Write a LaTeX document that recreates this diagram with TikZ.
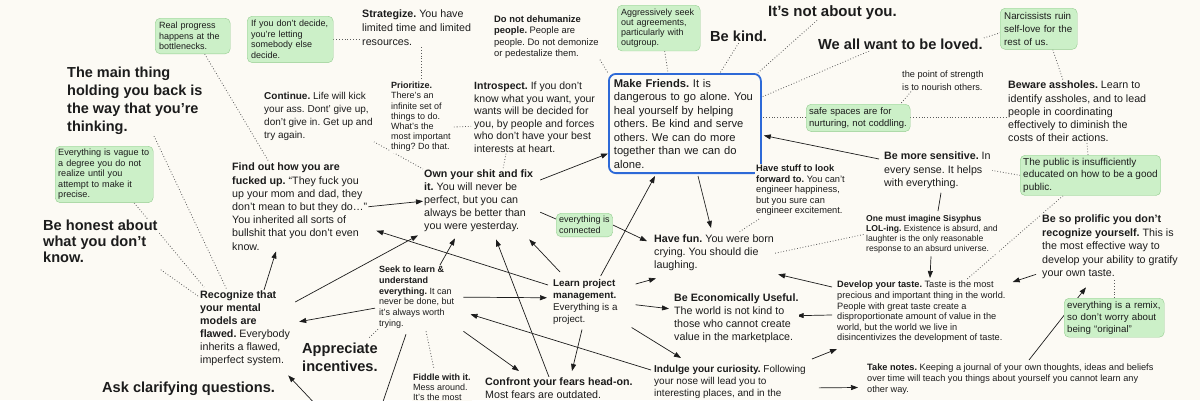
\documentclass[tikz,border=0pt]{standalone}
\usepackage{fontspec}
\setmainfont{Liberation Sans}
\usetikzlibrary{arrows.meta, calc, backgrounds}
\frenchspacing
\definecolor{paper}{RGB}{252,250,244}
\definecolor{ink}{RGB}{28,28,28}
\definecolor{notegreen}{RGB}{204,240,200}
\definecolor{noteedge}{RGB}{150,205,145}
\definecolor{hubblue}{RGB}{45,105,215}
\definecolor{dotgray}{RGB}{90,90,90}
\tikzset{
    txt/.style={anchor=north west, align=left, inner sep=1pt, fill=paper, text=ink},
    bigtxt/.style={txt, font=\bfseries\fontsize{14.6}{17.5}\selectfont},
    midtxt/.style={txt, font=\fontsize{10.7}{13.2}\selectfont},
    smalltxt/.style={txt, font=\fontsize{9.2}{10.6}\selectfont},
    tinytxt/.style={txt, font=\fontsize{8.6}{10}\selectfont},
    note/.style={anchor=north west, align=left, draw=noteedge, fill=notegreen, rounded corners=5pt, inner sep=4pt, text=ink, font=\fontsize{9}{10.5}\selectfont},
    hub/.style={anchor=north west, align=left, draw=hubblue, line width=1.8pt, rounded corners=7pt, fill=paper, inner sep=5pt, text=ink, font=\fontsize{11.2}{13.5}\selectfont},
    arrow/.style={-{Triangle[length=7pt,width=5pt]}, draw=ink, line width=0.7pt},
    plainline/.style={draw=ink, line width=0.7pt},
    dotline/.style={draw=dotgray, dotted, line width=0.8pt},
}

\begin{document}
\begin{tikzpicture}[x=1pt, y=-1pt]
    \useasboundingbox (0,0) rectangle (1200,400);
    \begin{scope}[on background layer]
        \fill[paper] (0,0) rectangle (1200,400);
    \end{scope}

    % top row
    \node[note, text width=67pt] (realprog) at (155,18) {Real progress\\happens at the\\bottlenecks.};
    \node[note, text width=78pt, font=\fontsize{9}{10.6}\selectfont] (decide) at (247,16) {If you don't decide,\\you're letting\\somebody else\\decide.};
    \node[midtxt, font=\fontsize{10.7}{14}\selectfont] (strat) at (361,9) {\textbf{Strategize.} You have\\limited time and limited\\resources.};
    \node[txt, font=\fontsize{9.4}{11.5}\selectfont] (dehum) at (493,14) {\textbf{Do not dehumanize}\\\textbf{people.} People are\\people. Do not demonize\\or pedestalize them.};
    \node[note, text width=75pt, font=\fontsize{9}{9.8}\selectfont] (aggress) at (617,5) {Aggressively seek\\out agreements,\\particularly with\\outgroup.};
    \node[bigtxt, font=\bfseries\fontsize{15}{17.5}\selectfont] (notyou) at (767,4) {It's not about you.};
    \node[bigtxt] (bekind) at (709,30) {Be kind.};
    \node[bigtxt] (loved) at (817,38) {We all want to be loved.};
    \node[note, text width=69pt, font=\fontsize{9.8}{13}\selectfont] (narc) at (1000,8) {Narcissists ruin\\self-love for the\\rest of us.};
    \node[txt, font=\fontsize{9.2}{12.5}\selectfont] (strength) at (901,70) {the point of strength\\is to nourish others.};
    \node[note, text width=98pt, inner sep=3pt, font=\fontsize{9.5}{12.5}\selectfont] (safe) at (806,104) {safe spaces are for\\nurturing, not coddling.};
    \node[midtxt] (beware) at (1007,80) {\textbf{Beware assholes.} Learn to\\identify assholes, and to lead\\people in coordinating\\effectively to diminish the\\costs of their actions.};

    % the hub
    \node[hub, text width=142pt] (makefr) at (608,73) {\textbf{Make Friends.} It is\\dangerous to go alone. You\\heal yourself by helping\\others. Be kind and serve\\others. We can do more\\together than we can do\\alone.};

    % left and middle
    \node[txt, font=\fontsize{10.5}{12.5}\selectfont] (introsp) at (473,81) {\textbf{Introspect.} If you don't\\know what you want, your\\wants will be decided for\\you, by people and forces\\who don't have your best\\interests at heart.};
    \node[txt, font=\fontsize{9}{10.2}\selectfont] (prior) at (390,81) {\textbf{Prioritize.}\\There's an\\infinite set of\\things to do.\\What's the\\most important\\thing? Do that.};
    \node[txt, font=\fontsize{10}{13}\selectfont] (cont) at (263,91) {\textbf{Continue.} Life will kick\\your ass. Dont' give up,\\don't give in. Get up and\\try again.};
    \node[bigtxt, font=\bfseries\fontsize{14.5}{18}\selectfont] (mainthing) at (66,66) {The main thing\\holding you back is\\the way that you're\\thinking.};
    \node[note, text width=92pt, inner sep=3pt, font=\fontsize{9.1}{10.5}\selectfont] (vague) at (55,146) {Everything is vague to\\a degree you do not\\realize until you\\attempt to make it\\precise.};
    \node[bigtxt, font=\bfseries\fontsize{14.6}{15.8}\selectfont] (honest) at (42,219) {Be honest about\\what you don't\\know.};
    \node[midtxt] (findout) at (231,162) {\textbf{Find out how you are}\\\textbf{fucked up.} “They fuck you\\up your mom and dad, they\\don't mean to but they do…”\\You inherited all sorts of\\bullshit that you don't even\\know.};
    \node[midtxt, font=\fontsize{10.7}{13}\selectfont] (ownshit) at (423,169) {\textbf{Own your shit and fix}\\\textbf{it.} You will never be\\perfect, but you can\\always be better than\\you were yesterday.};
    \node[note, inner sep=3pt, font=\fontsize{9}{11}\selectfont] (connected) at (556,213) {everything is\\connected};

    % right side
    \node[smalltxt, font=\fontsize{9.3}{10.5}\selectfont] (havestuff) at (755,164) {\textbf{Have stuff to look}\\\textbf{forward to.} You can't\\engineer happiness,\\but you sure can\\engineer excitement.};
    \node[midtxt] (sensitive) at (883,151) {\textbf{Be more sensitive.} In\\every sense. It helps\\with everything.};
    \node[note, inner sep=3pt, font=\fontsize{10}{12.5}\selectfont] (public) at (1020,155) {The public is insufficiently\\educated on how to be a good\\public.};
    \node[tinytxt] (sisyphus) at (865,214) {\textbf{One must imagine Sisyphus}\\\textbf{LOL-ing.} Existence is absurd, and\\laughter is the only reasonable\\response to an absurd universe.};
    \node[midtxt, font=\fontsize{10.7}{13}\selectfont] (havefun) at (653,234) {\textbf{Have fun.} You were born\\crying. You should die\\laughing.};
    \node[midtxt, font=\fontsize{10.7}{13.5}\selectfont] (prolific) at (1041,214) {\textbf{Be so prolific you don't}\\\textbf{recognize yourself.} This is\\the most effective way to\\develop your ability to gratify\\your own taste.};

    % bottom half
    \node[txt, font=\fontsize{9.8}{12}\selectfont] (learnpm) at (552,278) {\textbf{Learn project}\\\textbf{management.}\\Everything is a\\project.};
    \node[txt, font=\fontsize{9}{10.7}\selectfont] (seek) at (378,265) {\textbf{Seek to learn \&}\\\textbf{understand}\\\textbf{everything.} It can\\never be done, but\\it's always worth\\trying.};
    \node[midtxt, font=\fontsize{10.7}{13}\selectfont] (recog) at (199,290) {\textbf{Recognize that}\\\textbf{your mental}\\\textbf{models are}\\\textbf{flawed.} Everybody\\inherits a flawed,\\imperfect system.};
    \node[bigtxt, font=\bfseries\fontsize{14.6}{18}\selectfont] (apprec) at (301,342) {Appreciate\\incentives.};
    \node[bigtxt] (askclar) at (101,381) {Ask clarifying questions.};
    \node[txt, font=\fontsize{9}{10}\selectfont] (fiddle) at (412,373) {\textbf{Fiddle with it.}\\Mess around.\\It's the most};
    \node[midtxt, font=\fontsize{10.7}{13}\selectfont] (confront) at (484,377) {\textbf{Confront your fears head-on.}\\Most fears are outdated.};
    \node[midtxt, font=\fontsize{10.7}{13}\selectfont] (econ) at (673,293) {\textbf{Be Economically Useful.}\\The world is not kind to\\those who cannot create\\value in the marketplace.};
    \node[smalltxt] (taste) at (836,280) {\textbf{Develop your taste.} Taste is the most\\precious and important thing in the world.\\People with great taste create a\\disproportionate amount of value in the\\world, but the world we live in\\disincentivizes the development of taste.};
    \node[note, text width=94pt, inner sep=3pt, font=\fontsize{9.7}{12}\selectfont] (remix) at (1064,298) {everything is a remix,\\so don't worry about\\being “original”};
    \node[smalltxt, font=\fontsize{9.2}{11}\selectfont] (notes) at (866,363) {\textbf{Take notes.} Keeping a journal of your own thoughts, ideas and beliefs\\over time will teach you things about yourself you cannot learn any\\other way.};
    \node[txt, font=\fontsize{10}{12}\selectfont] (indulge) at (653,364) {\textbf{Indulge your curiosity.} Following\\your nose will lead you to\\interesting places, and in the};

    % ends that leave the frame
    \coordinate (belowseek) at (375,425);
    \coordinate (belowrecog) at (335,425);

    \begin{scope}[on background layer]
        % dotted links
        \draw[dotline] ($(realprog.south)+(12,0)$) -- ($(findout.north west)+(38,0)$);
        \draw[dotline] (decide.east) -- (decide.east -| strat.west);
        \draw[dotline] (prior.north |- strat.south) -- (prior.north);
        \draw[dotline] ($(prior.east)+(2,10)$) -- ($(introsp.west)+(-2,9)$);
        \draw[dotline] (cont.south east) -- (ownshit.north west);
        \draw[dotline] ($(introsp.south west)+(33,0)$) -- ($(ownshit.north west)+(80,0)$);
        \draw[dotline] (dehum.south east) -- (makefr.north west);
        \draw[dotline] ($(aggress.south)+(6,0)$) -- ($(makefr.north west)+(60,0)$);
        \draw[dotline] (bekind.south) -- ($(makefr.north west)+(112,0)$);
        \draw[dotline] ($(notyou.south west)+(50,0)$) -- ($(makefr.north east)+(-4,0)$);
        \draw[dotline] ($(loved.south west)+(52,0)$) -- ($(makefr.north east)+(0,24)$);
        \draw[dotline] (safe.west) -- (safe.west -| makefr.east);
        \draw[dotline] ($(strength.south west)+(10,0)$) -- ($(safe.north east)+(-10,0)$);
        \draw[dotline] (safe.east) -- (safe.east -| beware.west);
        \draw[dotline] (loved.north east) -- ($(narc.west)+(0,4)$);
        \draw[dotline] ($(narc.south)+(14,0)$) -- ($(beware.north west)+(56,0)$);
        \draw[dotline] ($(beware.south west)+(80,0)$) -- ($(public.north west)+(68,0)$);
        \draw[dotline] (sensitive.east) -- (public.west);
        \draw[dotline] ($(public.south west)+(43,0)$) -- ($(taste.north west)+(130,0)$);
        \draw[dotline] (remix.north |- prolific.south) -- (remix.north);
        \draw[dotline] ($(vague.south)+(30,0)$) -- ($(recog.north west)+(5,-3)$);
        \draw[dotline] ($(mainthing.south west)+(88,0)$) -- ($(recog.north west)+(28,0)$);
        \draw[dotline] ($(honest.south east)+(2,6)$) -- ($(recog.north west)+(-1,6)$);
        \draw[dotline] (seek.south west) -- ($(apprec.north east)+(-10,-4)$);
        \draw[dotline] ($(seek.south west)+(48,2)$) -- ($(fiddle.north west)+(22,-4)$);
        \draw[dotline] ($(havestuff.south west)+(4,2)$) -- ($(havefun.north east)+(-36,-2)$);
        \draw[dotline] (havefun.east) -- (sisyphus.west);

        % solid links
        \draw[plainline] ($(sensitive.south west)+(58,3)$) -- ($(sisyphus.north west)+(73,-3)$);
        \draw[plainline] ($(ownshit.east)+(6,11)$) -- ($(connected.west)+(0,-6)$);
        \draw[plainline] ($(seek.south west)+(28,5)$) -- (belowseek);
        \draw[arrow] (findout.east) -- (ownshit.west);
        \draw[arrow] ($(recog.north west)+(65,0)$) -- ($(findout.south west)+(45,0)$);
        \draw[arrow] ($(recog.north east)+(4,12)$) -- ($(ownshit.south west)+(-5,2)$);
        \draw[arrow] ($(learnpm.north west)+(-4,7)$) -- ($(findout.east)+(8,24)$);
        \draw[arrow] ($(seek.north west)+(62,0)$) -- ($(ownshit.south west)+(32,5)$);
        \draw[arrow] ($(confront.north west)+(65,0)$) -- ($(ownshit.south west)+(73,6)$);
        \draw[arrow] ($(learnpm.north west)+(8,-6)$) -- ($(ownshit.south east)+(-5,6)$);
        \draw[arrow] ($(learnpm.north east)+(-18,-2)$) -- ($(makefr.south west)+(47,2)$);
        \draw[arrow] ($(seek.east)+(8,0)$) -- ($(learnpm.west)+(-5,-4)$);
        \draw[arrow] ($(seek.west)+(-3,11)$) -- ($(recog.east)+(8,-7)$);
        \draw[arrow] ($(indulge.north west)+(-2,6)$) -- ($(seek.south east)+(15,-15)$);
        \draw[arrow] ($(learnpm.south east)+(13,2)$) -- ($(indulge.north west)+(28,-6)$);
        \draw[arrow] ($(learnpm.north east)+(17,6)$) -- ($(havefun.south west)+(3,6)$);
        \draw[arrow] ($(learnpm.east)+(17,3)$) -- ($(econ.west)+(-4,-10)$);
        \draw[arrow] ($(seek.south east)+(8,2)$) -- ($(confront.north west)+(35,-6)$);
        \draw[arrow] ($(learnpm.south west)+(30,4)$) -- ($(confront.north west)+(88,-6)$);
        \draw[arrow] (belowrecog) -- ($(recog.south east)+(-3,8)$);
        \draw[arrow] ($(makefr.south west)+(90,2)$) -- ($(havefun.north west)+(58,-6)$);
        \draw[arrow] (connected.east) -- ($(havefun.west)+(-6,-12)$);
        \draw[arrow] ($(ownshit.north east)+(6,11)$) -- ($(makefr.west)+(0,30)$);
        \draw[arrow] ($(sensitive.north west)+(-4,8)$) -- ($(makefr.east)+(2,12)$);
        \draw[arrow] ($(sisyphus.south west)+(66,2)$) -- ($(taste.north west)+(94,-2)$);
        \draw[arrow] ($(prolific.south west)+(-5,-6)$) -- ($(taste.north east)+(6,2)$);
        \draw[arrow] ($(taste.north west)+(-4,7)$) -- ($(havefun.south east)+(3,2)$);
        \draw[arrow] ($(taste.west)+(-4,3)$) -- ($(econ.east)+(-3,-3)$);
        \draw[arrow] ($(indulge.north east)+(5,-5)$) -- ($(taste.south west)+(1,5)$);
        \draw[arrow] ($(indulge.east)+(12,6)$) -- ($(notes.west)+(-8,8)$);
        \draw[arrow] ($(notes.north west)+(163,-3)$) -- ($(prolific.south west)+(45,7)$);
    \end{scope}
\end{tikzpicture}
\end{document}
